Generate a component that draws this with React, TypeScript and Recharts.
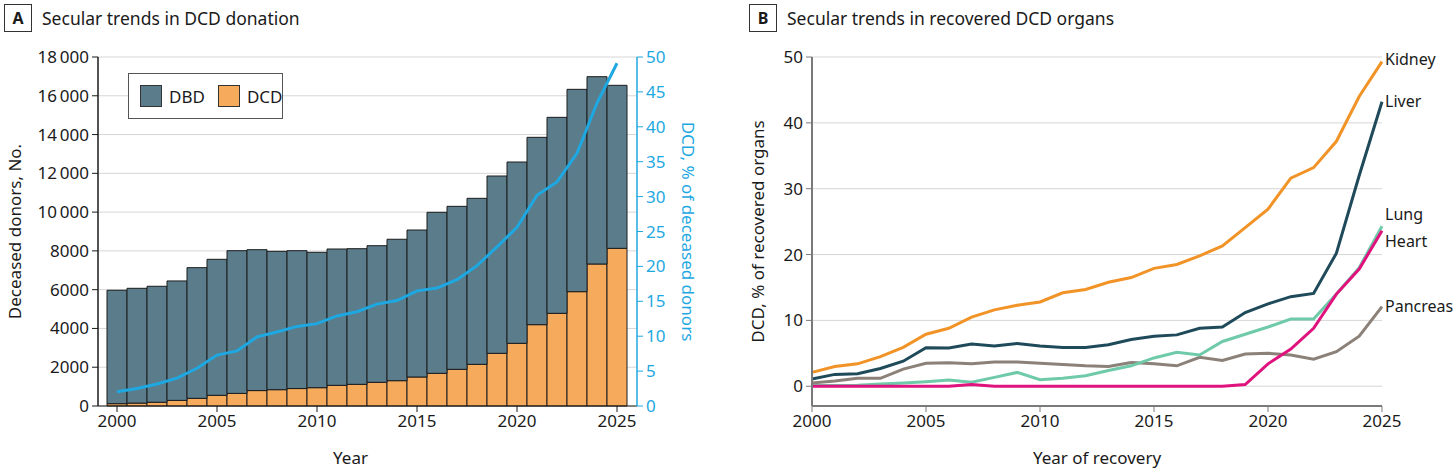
import React from 'react';
import {
  ComposedChart,
  LineChart,
  Bar,
  Line,
  XAxis,
  YAxis,
  CartesianGrid,
  Label,
} from 'recharts';

// ---- Panel A: deceased donors by year ----
const years = [
  2000, 2001, 2002, 2003, 2004, 2005, 2006, 2007, 2008, 2009, 2010, 2011, 2012,
  2013, 2014, 2015, 2016, 2017, 2018, 2019, 2020, 2021, 2022, 2023, 2024, 2025,
];
const dbdDonors = [
  5850, 5920, 5980, 6160, 6740, 7014, 7361, 7267, 7136, 7111, 6982, 7031, 6995,
  7046, 7294, 7581, 8305, 8407, 8562, 9146, 9352, 9662, 10109, 10435, 9661, 8407,
];
const dcdDonors = [
  120, 150, 195, 290, 395, 552, 650, 795, 842, 900, 945, 1066, 1118,
  1222, 1306, 1496, 1685, 1891, 2149, 2716, 3232, 4195, 4779, 5897, 7324, 8132,
];
const dcdPercent = [
  2.05, 2.5, 3.15, 4.0, 5.4, 7.3, 7.9, 9.9, 10.6, 11.4, 11.8, 12.9, 13.5,
  14.6, 15.1, 16.5, 16.9, 18.1, 20.1, 22.8, 25.6, 30.2, 32.1, 36.2, 43.4, 49.1,
];
const donorTicks = [0, 2000, 4000, 6000, 8000, 10000, 12000, 14000, 16000, 18000];
const percentTicks = [0, 5, 10, 15, 20, 25, 30, 35, 40, 45, 50];
const yearTicks = [2000, 2005, 2010, 2015, 2020, 2025];

// ---- Panel B: DCD share of recovered organs (%) ----
const kidney = [
  2.1, 3.0, 3.4, 4.5, 5.9, 7.9, 8.8, 10.5, 11.6, 12.3, 12.8, 14.2, 14.7,
  15.8, 16.5, 17.9, 18.5, 19.8, 21.3, 24.1, 26.9, 31.6, 33.2, 37.2, 44.0, 49.3,
];
const liver = [
  1.1, 1.8, 1.9, 2.7, 3.8, 5.85, 5.8, 6.4, 6.1, 6.5, 6.1, 5.9, 5.9,
  6.3, 7.1, 7.6, 7.8, 8.8, 9.0, 11.2, 12.5, 13.6, 14.1, 20.2, 32.0, 43.2,
];
const lung = [
  0.1, 0.1, 0.15, 0.35, 0.5, 0.7, 0.95, 0.6, 1.35, 2.1, 1.0, 1.2, 1.6,
  2.4, 3.1, 4.3, 5.15, 4.75, 6.8, 7.9, 9.0, 10.2, 10.2, 14.0, 18.0, 24.3,
];
const heart = [
  0, 0, 0, 0, 0, 0, 0, 0.25, 0, 0, 0, 0, 0,
  0, 0, 0, 0, 0, 0, 0.25, 3.4, 5.65, 8.8, 14.0, 17.8, 23.6,
];
const pancreas = [
  0.5, 0.8, 1.2, 1.2, 2.6, 3.5, 3.55, 3.4, 3.7, 3.7, 3.5, 3.3, 3.1,
  3.0, 3.6, 3.4, 3.1, 4.4, 3.9, 4.9, 5.0, 4.75, 4.1, 5.25, 7.6, 12.1,
];
const organTicks = [0, 10, 20, 30, 40, 50];

const donationData = years.map((year, i) => ({
  year,
  dbd: dbdDonors[i],
  dcd: dcdDonors[i],
  pct: dcdPercent[i],
}));

const organData = years.map((year, i) => ({
  year,
  kidney: kidney[i],
  liver: liver[i],
  lung: lung[i],
  heart: heart[i],
  pancreas: pancreas[i],
}));

const INK = '#1a1a1a';
const CYAN = '#1ea8e2';
const DBD_COLOR = '#5a7c8b';
const DCD_COLOR = '#f6aa5c';

const organSeries = [
  { key: 'pancreas', name: 'Pancreas', color: '#8b8178', dy: -1 },
  { key: 'lung', name: 'Lung', color: '#6fcaa9', dy: -12 },
  { key: 'heart', name: 'Heart', color: '#e0137e', dy: 10 },
  { key: 'liver', name: 'Liver', color: '#1f4a5a', dy: -1 },
  { key: 'kidney', name: 'Kidney', color: '#f19326', dy: -3 },
];

const fmtThousands = (v: number) =>
  v >= 10000 ? `${Math.floor(v / 1000)}\u2009${String(v % 1000).padStart(3, '0')}` : `${v}`;

const PanelTitle = ({ letter, text, left }: { letter: string; text: string; left: number }) => (
  <div style={{ position: 'absolute', left, top: 4, display: 'flex', alignItems: 'center' }}>
    <div
      style={{
        width: 26,
        height: 26,
        border: '1.3px solid #333',
        display: 'flex',
        alignItems: 'center',
        justifyContent: 'center',
        fontWeight: 700,
        fontSize: 16,
        color: INK,
      }}
    >
      {letter}
    </div>
    <div style={{ marginLeft: 10, fontSize: 17.5, color: INK }}>{text}</div>
  </div>
);

const Swatch = ({ color }: { color: string }) => (
  <div style={{ width: 20, height: 20, background: color, border: '1px solid #333' }} />
);

const App = () => {
  const last = years.length - 1;

  return (
    <div
      style={{
        position: 'absolute',
        left: 0,
        top: 0,
        width: 1456,
        height: 470,
        background: '#fff',
        fontFamily: '"Noto Sans", sans-serif',
        color: INK,
        overflow: 'hidden',
      }}
    >
      <PanelTitle letter="A" text="Secular trends in DCD donation" left={4} />
      <PanelTitle letter="B" text="Secular trends in recovered DCD organs" left={749} />

      {/* Panel A */}
      <div style={{ position: 'absolute', left: 0, top: 0 }}>
        <ComposedChart
          width={730}
          height={470}
          data={donationData}
          margin={{ top: 57, right: 0, bottom: 0, left: 0 }}
          barCategoryGap={0}
        >
          <CartesianGrid yAxisId="left" vertical={false} stroke="#d6d6d6" />
          <XAxis
            dataKey="year"
            interval={4}
            padding={{ left: 9, right: 10 }}
            height={64}
            tickSize={6}
            tickMargin={3}
            axisLine={{ stroke: INK }}
            tickLine={{ stroke: INK }}
            tick={{ fill: INK, fontSize: 17 }}
          >
            <Label value="Year" position="insideBottom" offset={6} dx={-17} fill={INK} fontSize={17} />
          </XAxis>
          <YAxis
            yAxisId="left"
            width={98}
            domain={[0, 18000]}
            ticks={donorTicks}
            tickFormatter={fmtThousands}
            interval={0}
            tickSize={6}
            tickMargin={3}
            axisLine={{ stroke: INK, strokeWidth: 1.5 }}
            tickLine={{ stroke: INK }}
            tick={{ fill: INK, fontSize: 17 }}
          >
            <Label value="Deceased donors, No." angle={-90} position="center" dx={-34} fill={INK} fontSize={17} />
          </YAxis>
          <YAxis
            yAxisId="right"
            orientation="right"
            width={93}
            domain={[0, 50]}
            ticks={percentTicks}
            interval={0}
            tickSize={6}
            tickMargin={3}
            axisLine={{ stroke: CYAN, strokeWidth: 1.5 }}
            tickLine={{ stroke: CYAN }}
            tick={{ fill: CYAN, fontSize: 17 }}
          >
            <Label value="DCD, % of deceased donors" angle={90} position="center" dx={5} fill={CYAN} fontSize={17} />
          </YAxis>
          <Bar yAxisId="left" dataKey="dcd" stackId="donors" fill={DCD_COLOR} stroke="#1c1c1c" strokeWidth={1} isAnimationActive={false} />
          <Bar yAxisId="left" dataKey="dbd" stackId="donors" fill={DBD_COLOR} stroke="#1c1c1c" strokeWidth={1} isAnimationActive={false} />
          <Line yAxisId="right" dataKey="pct" type="linear" stroke={CYAN} strokeWidth={3} dot={false} isAnimationActive={false} />
        </ComposedChart>
      </div>

      {/* legend for panel A */}
      <div
        style={{
          position: 'absolute',
          left: 128,
          top: 73,
          width: 153,
          height: 44,
          border: '1.5px solid #555',
          background: '#fff',
          display: 'flex',
          alignItems: 'center',
          fontSize: 17,
        }}
      >
        <div style={{ marginLeft: 11 }}>
          <Swatch color={DBD_COLOR} />
        </div>
        <span style={{ marginLeft: 7 }}>DBD</span>
        <div style={{ marginLeft: 13 }}>
          <Swatch color={DCD_COLOR} />
        </div>
        <span style={{ marginLeft: 7 }}>DCD</span>
      </div>

      {/* Panel B */}
      <div style={{ position: 'absolute', left: 730, top: 0 }}>
        <LineChart
          width={726}
          height={470}
          data={organData}
          margin={{ top: 57, right: 74, bottom: 0, left: 0 }}
        >
          <CartesianGrid vertical={false} stroke="#d6d6d6" />
          <XAxis
            dataKey="year"
            type="number"
            domain={[2000, 2025]}
            ticks={yearTicks}
            interval={0}
            height={64}
            tickSize={6}
            tickMargin={3}
            axisLine={{ stroke: '#7a7a7a', strokeWidth: 2 }}
            tickLine={{ stroke: '#7a7a7a' }}
            tick={{ fill: INK, fontSize: 17 }}
          >
            <Label value="Year of recovery" position="insideBottom" offset={6} fill={INK} fontSize={17} />
          </XAxis>
          <YAxis
            width={82}
            domain={[-3, 50]}
            ticks={organTicks}
            interval={0}
            tickSize={6}
            tickMargin={3}
            axisLine={{ stroke: '#7a7a7a', strokeWidth: 2 }}
            tickLine={{ stroke: '#7a7a7a' }}
            tick={{ fill: INK, fontSize: 17 }}
          >
            <Label value="DCD, % of recovered organs" angle={-90} position="center" dx={-13} fill={INK} fontSize={17} />
          </YAxis>
          {organSeries.map((s) => (
            <Line
              key={s.key}
              dataKey={s.key}
              type="linear"
              stroke={s.color}
              strokeWidth={3}
              dot={false}
              isAnimationActive={false}
              label={(props: any) =>
                props.index === last ? (
                  <text
                    key={`lbl-${s.key}`}
                    x={props.x + 3}
                    y={props.y + s.dy}
                    dominantBaseline="central"
                    textAnchor="start"
                    fill={INK}
                    fontSize={16}
                  >
                    {s.name}
                  </text>
                ) : (
                  <g key={`lbl-${s.key}-${props.index}`} />
                )
              }
            />
          ))}
        </LineChart>
      </div>
    </div>
  );
};

export default App;
